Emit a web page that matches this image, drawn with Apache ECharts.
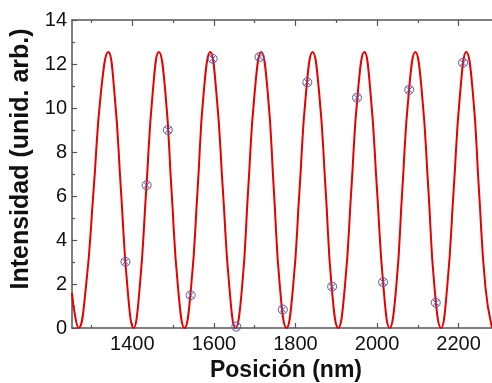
<!DOCTYPE html>
<html>
<head>
<meta charset="utf-8">
<script src="https://cdn.jsdelivr.net/npm/echarts@6/dist/echarts.min.js"></script>
<style>
html,body{margin:0;padding:0;background:#fff;}
#c{width:492px;height:383px;}
</style>
</head>
<body>
<div id="c"></div>
<script>
// Fitted curve
var fitX = [1252, 1260, 1268, 1286, 1305, 1323, 1341, 1356, 1372, 1388, 1403, 1418, 1434, 1450, 1465, 1481, 1496, 1512, 1528, 1544, 1560, 1575, 1591, 1606, 1622, 1638, 1653, 1669, 1684, 1700, 1716, 1732, 1747, 1762, 1778, 1794, 1810, 1826, 1842, 1858, 1874, 1889, 1905, 1921, 1937, 1953, 1969, 1984, 2000, 2016, 2031, 2047, 2062, 2078, 2094, 2110, 2126, 2141, 2157, 2172, 2188, 2204, 2219, 2235, 2250, 2266, 2282];
var fitY = [1.6, 0.5,
  0, 1.84, 6.28, 10.71, 12.55, 10.71, 6.28, 1.84,
  0, 1.84, 6.28, 10.71, 12.55, 10.71, 6.28, 1.84,
  0, 1.84, 6.28, 10.71, 12.55, 10.71, 6.28, 1.84,
  0, 1.84, 6.28, 10.71, 12.55, 10.71, 6.28, 1.84,
  0, 1.84, 6.28, 10.71, 12.55, 10.71, 6.28, 1.84,
  0, 1.84, 6.28, 10.71, 12.55, 10.71, 6.28, 1.84,
  0, 1.84, 6.28, 10.71, 12.55, 10.71, 6.28, 1.84,
  0, 1.84, 6.28, 10.71, 12.55, 10.71, 6.28, 1.84,
  0];
// Measured points
var measX = [1383, 1435, 1487, 1543, 1597, 1655, 1712, 1769, 1829, 1890, 1951, 2015, 2079, 2144, 2211];
var measY = [3.01, 6.49, 9.0, 1.49, 12.24, 0.06, 12.32, 0.84, 11.17, 1.88, 10.47, 2.08, 10.83, 1.15, 12.06];
// Axis ticks
var xMajorTicks = [1400, 1600, 1800, 2000, 2200];
var xMinorTicks = [1300, 1500, 1700, 1900, 2100];
var xMin = 1252, xMax = 2282;
var yMin = 0, yMax = 14, yStep = 2;

var fitData = fitX.map(function (x, i) { return [x, fitY[i]]; });
var measData = measX.map(function (x, i) { return [x, measY[i]]; });

var FONT = '"Liberation Sans", Arial, sans-serif';
var AXC = '#555';

function xAx(pos, ticks, len, showLine, showLabel) {
  return {
    type: 'value', position: pos, min: xMin, max: xMax,
    axisLine: { show: showLine, onZero: false, lineStyle: { color: AXC, width: 1.5 } },
    axisTick: { show: true, inside: true, length: len, customValues: ticks, lineStyle: { color: AXC, width: 1.2 } },
    axisLabel: { show: showLabel, customValues: ticks, fontSize: 20, color: '#111', fontFamily: FONT, margin: 6,
      formatter: function (v) { return String(v); } },
    splitLine: { show: false }
  };
}

var bottomMain = xAx('bottom', xMajorTicks, 5, true, true);
bottomMain.name = 'Posición (nm)';
bottomMain.nameLocation = 'middle';
bottomMain.nameGap = 29;
bottomMain.nameTextStyle = { fontSize: 23, fontWeight: 'bold', color: '#111', fontFamily: FONT, padding: [0, 0, 0, 8] };

var option = {
  animation: false,
  backgroundColor: '#fff',
  grid: { left: 72, right: 0, top: 20, bottom: 55, outerBoundsMode: 'none' },
  xAxis: [
    bottomMain,
    xAx('bottom', xMinorTicks, 3, false, false),
    xAx('top', xMajorTicks, 6, true, false),
    xAx('top', xMinorTicks, 3, false, false)
  ],
  yAxis: {
    type: 'value', min: yMin, max: yMax, interval: yStep,
    axisLine: { show: true, lineStyle: { color: AXC, width: 1.5 } },
    axisTick: { show: true, inside: true, length: 5, lineStyle: { color: AXC, width: 1.2 } },
    minorTick: { show: true, splitNumber: 2, length: 3, lineStyle: { color: AXC, width: 1.2 } },
    axisLabel: { fontSize: 20, color: '#111', fontFamily: FONT, margin: 5 },
    splitLine: { show: false },
    name: 'Intensidad (unid. arb.)',
    nameLocation: 'middle',
    nameGap: 38,
    nameTextStyle: { fontSize: 25, fontWeight: 'bold', color: '#111', fontFamily: FONT, padding: [0, 0, 0, 30] }
  },
  series: [
    {
      type: 'line', data: fitData, xAxisIndex: 0, showSymbol: false, smooth: 0.5,
      lineStyle: { color: '#e60000', width: 2 }, clip: true, z: 2
    },
    {
      type: 'scatter', data: measData, xAxisIndex: 0,
      symbol: 'path://M10,0A10,10,0,1,1,-10,0A10,10,0,1,1,10,0ZM-7,-7L7,7M7,-7L-7,7',
      symbolSize: 9,
      itemStyle: { color: 'none', borderColor: '#5a5aa6', borderWidth: 1, opacity: 1 },
      z: 3
    }
  ]
};

var chart = echarts.init(document.getElementById('c'), null, { renderer: 'canvas' });
chart.setOption(option);
</script>
</body>
</html>
